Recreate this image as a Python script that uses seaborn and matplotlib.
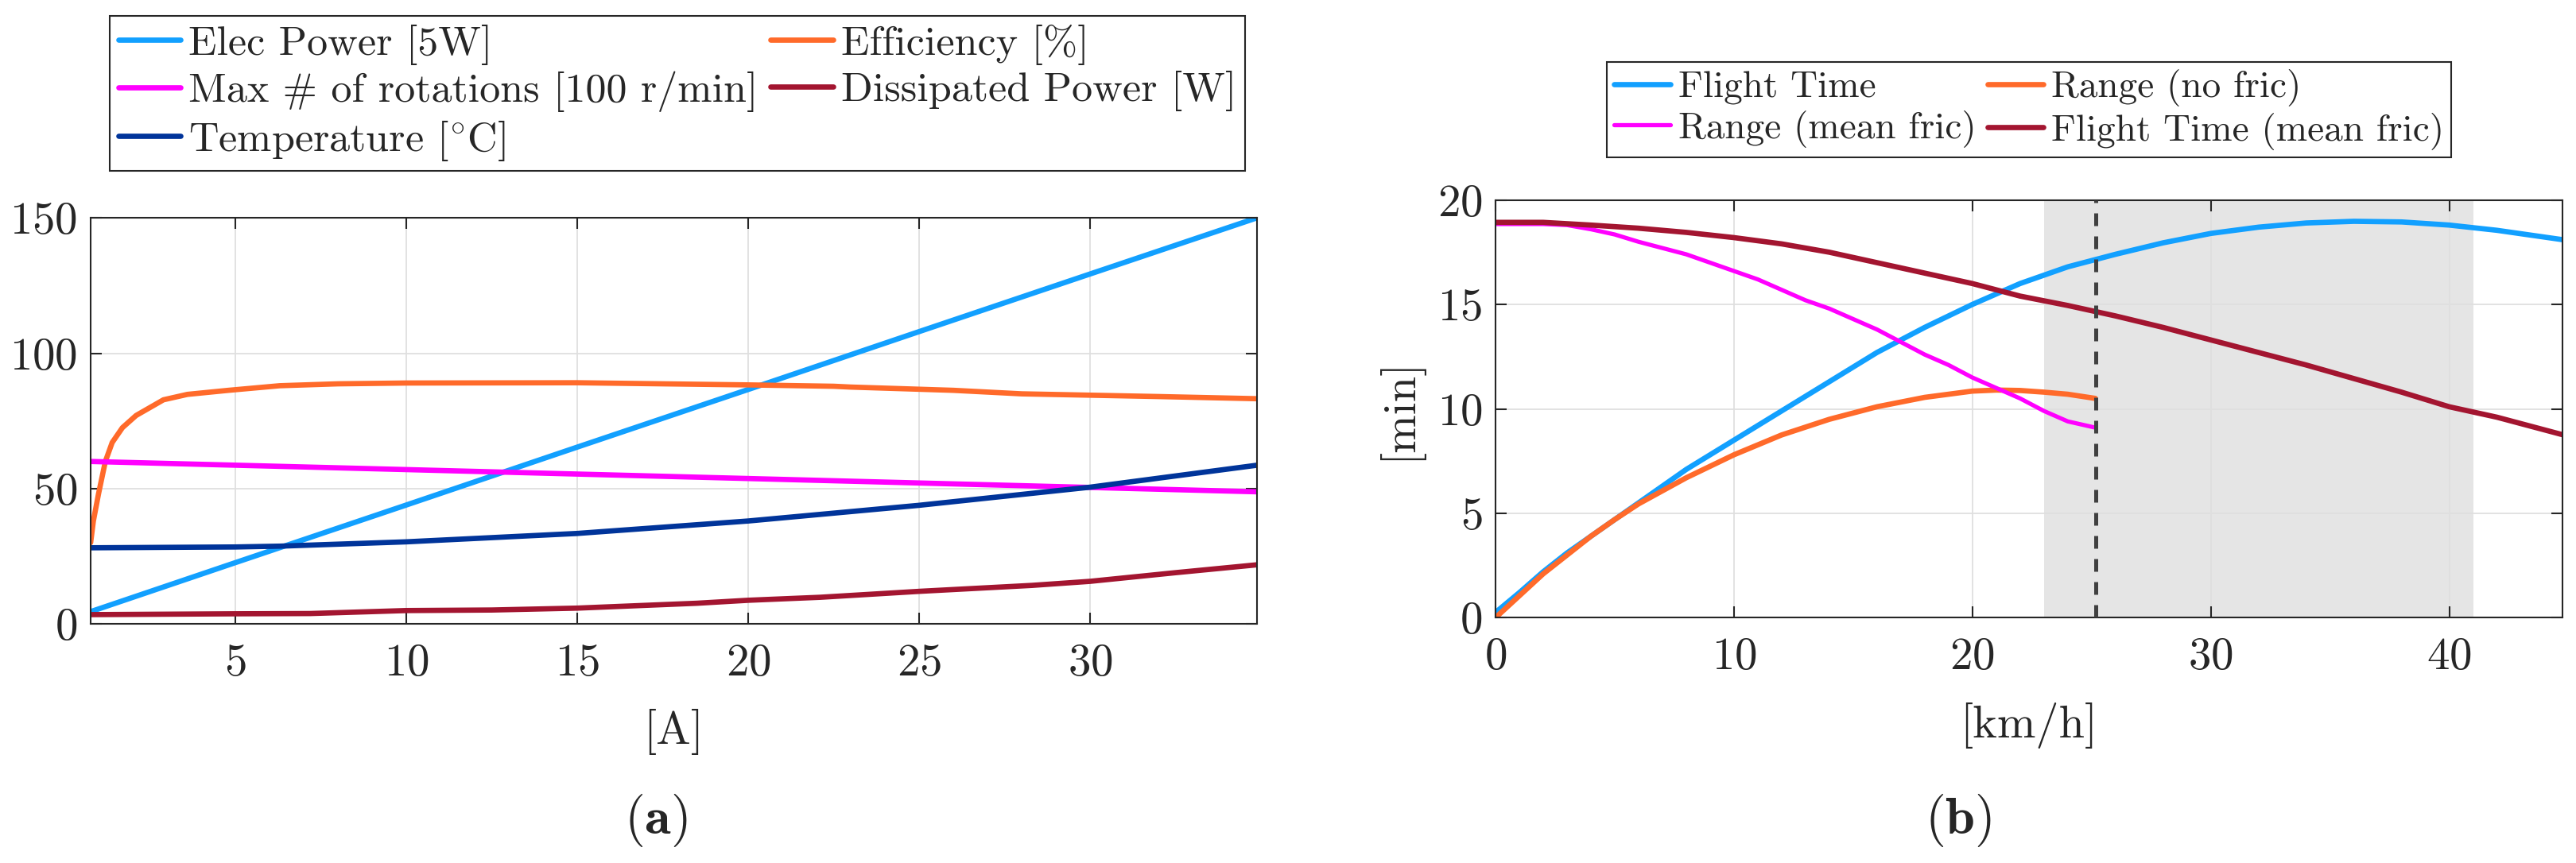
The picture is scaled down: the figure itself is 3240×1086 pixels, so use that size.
import numpy as np
import pandas as pd
import matplotlib
matplotlib.use("Agg")
import matplotlib.pyplot as plt
import seaborn as sns

# ---------------- data: panel (a) ----------------
elec_x = [0.77, 5, 10, 15, 20, 25, 30, 34.87]
elec_y = [4.5, 22.6, 43.9, 65.3, 86.6, 108.0, 129.3, 150.0]

eff_x = [0.77, 0.85, 1.0, 1.2, 1.4, 1.7, 2.1, 2.9, 3.6, 4.8, 6.3, 8, 10, 15, 20, 22.5, 23, 26, 28, 32, 34.87]
eff_y = [30, 38, 48, 60, 67, 72.5, 77, 82.8, 84.8, 86.3, 88, 88.7, 89, 89.1, 88.3, 87.8, 87.5, 86.3, 85, 84, 83.2]

rot_x = [0.77, 10, 20, 30, 34.87]
rot_y = [60.0, 57.0, 53.7, 50.4, 48.8]

temp_x = [0.77, 5, 6.3, 10, 15, 20, 25, 30, 34.87]
temp_y = [28.1, 28.4, 28.7, 30.3, 33.4, 38.0, 43.8, 50.5, 58.6]

diss_x = [0.77, 5, 7.2, 10, 12.5, 15, 18.5, 20, 22.1, 25, 28.3, 30, 32.5, 34.87]
diss_y = [3.4, 3.7, 3.8, 4.9, 5.1, 5.8, 7.6, 8.7, 9.8, 12.0, 14.2, 15.7, 18.9, 21.8]

# ---------------- data: panel (b) ----------------
ft_x = [0, 1, 2, 3, 4, 5, 6, 8, 10, 12, 14, 16, 18, 20, 22, 24, 26, 28, 30, 32, 34, 36, 38, 40, 42, 44.76]
ft_y = [0.25, 1.2, 2.2, 3.1, 3.9, 4.7, 5.5, 7.1, 8.5, 9.9, 11.3, 12.7, 13.9, 15.0, 16.0, 16.8, 17.4, 17.95,
        18.4, 18.7, 18.9, 18.98, 18.95, 18.8, 18.55, 18.1]

rnf_x = [0, 1, 2, 3, 4, 5, 6, 8, 10, 12, 14, 16, 18, 20, 21, 22, 23, 24, 25.16]
rnf_y = [0.0, 1.05, 2.1, 3.0, 3.9, 4.7, 5.45, 6.7, 7.8, 8.75, 9.5, 10.1, 10.55, 10.85, 10.9, 10.88, 10.8,
         10.7, 10.5]

rmf_x = [0, 1, 2, 3, 4, 5, 6, 7, 8, 9, 10, 11, 12, 13, 14, 15, 16, 17, 18, 19, 20, 21, 22, 23, 24, 25.16]
rmf_y = [18.85, 18.85, 18.85, 18.8, 18.6, 18.35, 18.0, 17.7, 17.4, 17.0, 16.6, 16.2, 15.7, 15.2, 14.8,
         14.3, 13.8, 13.2, 12.6, 12.1, 11.5, 11.0, 10.5, 9.9, 9.4, 9.1]

ftm_x = [0, 2, 4, 6, 8, 10, 12, 14, 16, 18, 20, 22, 24, 26, 28, 30, 32, 34, 36, 38, 40, 42, 44.76]
ftm_y = [18.93, 18.93, 18.8, 18.65, 18.45, 18.2, 17.9, 17.5, 17.0, 16.5, 16.0, 15.4, 14.95, 14.45, 13.9,
         13.3, 12.7, 12.1, 11.45, 10.8, 10.1, 9.6, 8.76]

span_lo, span_hi = 23.0, 41.0
vline_x = 25.16

a_labels = ["Elec Power [5W]", "Efficiency [%]", "Max # of rotations [100 r/min]",
            "Dissipated Power [W]", r"Temperature [$^{\circ}$C]"]
b_labels = ["Flight Time", "Range (no fric)", "Range (mean fric)", "Flight Time (mean fric)"]

a_xticks = [5, 10, 15, 20, 25, 30]
a_yticks = [0, 50, 100, 150]
b_xticks = [0, 10, 20, 30, 40]
b_yticks = [0, 5, 10, 15, 20]

# ---------------- style ----------------
sns.set_style("white")
plt.rcParams["font.family"] = ["serif"]
plt.rcParams["font.serif"] = ["cmr10", "DejaVu Serif"]
plt.rcParams["mathtext.fontset"] = "cm"
plt.rcParams["axes.formatter.use_mathtext"] = True
plt.rcParams["axes.unicode_minus"] = False

C_BLUE = "#12A0FF"
C_ORANGE = "#FF6A2A"
C_MAG = "#FF00FF"
C_RED = "#A31530"
C_NAVY = "#00349A"
C_AX = "#262626"

LW = 4.8
TICK_FS = 41
LAB_FS = 42
LEGA_FS = 37.5
LEGB_FS = 34

fig = plt.figure(figsize=(32.4, 10.86), dpi=100)
axA = fig.add_axes([114 / 3240, 1 - 785 / 1086, (1580.5 - 114) / 3240, (785 - 274.3) / 1086])
axB = fig.add_axes([1881 / 3240, 1 - 777.3 / 1086, (3223.3 - 1881) / 3240, (777.3 - 251.7) / 1086])


def style_axes(ax):
    ax.set_axisbelow(True)
    ax.grid(True, color="#DFDFDF", linewidth=1.3)
    for s in ax.spines.values():
        s.set_visible(True)
        s.set_color(C_AX)
        s.set_linewidth(1.5)
    ax.tick_params(direction="in", length=10, width=1.5, colors=C_AX, labelcolor=C_AX,
                   top=True, right=True, bottom=True, left=True, labelsize=TICK_FS)
    ax.tick_params(axis="x", pad=18)
    ax.tick_params(axis="y", pad=12)


def make_legend(handles, labels, anchor, fs):
    leg = fig.legend(handles, labels, ncol=2, loc="upper left", bbox_to_anchor=anchor,
                     bbox_transform=fig.transFigure, fontsize=fs, frameon=True, fancybox=False,
                     edgecolor=C_AX, framealpha=1, borderaxespad=0, handlelength=1.5,
                     handletextpad=0.2, columnspacing=0.3, labelspacing=0.15, borderpad=0.2)
    leg.get_frame().set_linewidth(1.5)
    return leg


# ---- panel (a)
hA = []
hA.append(sns.lineplot(x=elec_x, y=elec_y, ax=axA, color=C_BLUE, linewidth=LW, label=a_labels[0]).lines[-1])
hA.append(sns.lineplot(x=eff_x, y=eff_y, ax=axA, color=C_ORANGE, linewidth=LW, label=a_labels[1]).lines[-1])
hA.append(sns.lineplot(x=rot_x, y=rot_y, ax=axA, color=C_MAG, linewidth=LW, label=a_labels[2]).lines[-1])
hA.append(sns.lineplot(x=diss_x, y=diss_y, ax=axA, color=C_RED, linewidth=LW, label=a_labels[3]).lines[-1])
hA.append(sns.lineplot(x=temp_x, y=temp_y, ax=axA, color=C_NAVY, linewidth=LW, label=a_labels[4]).lines[-1])
axA.set_xlim(0.77, 34.87)
axA.set_ylim(0, 150)
axA.set_xticks(a_xticks)
axA.set_yticks(a_yticks)
style_axes(axA)
axA.set_xlabel("[A]", fontsize=LAB_FS, labelpad=22, color=C_AX)
axA.set_ylabel("")
if axA.get_legend():
    axA.get_legend().remove()
order = [0, 2, 4, 1, 3]
make_legend([hA[i] for i in order], [a_labels[i] for i in order], (138.3 / 3240, 1 - 20 / 1086), LEGA_FS)

# ---- panel (b)
axB.axvspan(span_lo, span_hi, color="#E5E5E5", zorder=0.3, linewidth=0)
hB = []
hB.append(sns.lineplot(x=ft_x, y=ft_y, ax=axB, color=C_BLUE, linewidth=LW, label=b_labels[0]).lines[-1])
hB.append(sns.lineplot(x=rnf_x, y=rnf_y, ax=axB, color=C_ORANGE, linewidth=LW, label=b_labels[1]).lines[-1])
hB.append(sns.lineplot(x=rmf_x, y=rmf_y, ax=axB, color=C_MAG, linewidth=3.8, label=b_labels[2]).lines[-1])
hB.append(sns.lineplot(x=ftm_x, y=ftm_y, ax=axB, color=C_RED, linewidth=LW, label=b_labels[3]).lines[-1])
axB.axvline(vline_x, color="#404040", linewidth=3.6, dashes=(3.2, 2.6), zorder=3)
axB.set_xlim(0, 44.76)
axB.set_ylim(0, 20)
axB.set_xticks(b_xticks)
axB.set_yticks(b_yticks)
style_axes(axB)
axB.set_xlabel("[km/h]", fontsize=LAB_FS, labelpad=22, color=C_AX)
axB.set_ylabel("[min]", fontsize=LAB_FS, labelpad=14, color=C_AX)
if axB.get_legend():
    axB.get_legend().remove()
orderB = [0, 2, 1, 3]
make_legend([hB[i] for i in orderB], [b_labels[i] for i in orderB], (2021 / 3240, 1 - 78 / 1086), LEGB_FS)

fig.text(825 / 3240, 1 - 1033 / 1086, r"($\mathbf{a}$)", fontsize=48, ha="center", va="center")
fig.text(2463 / 3240, 1 - 1033 / 1086, r"($\mathbf{b}$)", fontsize=48, ha="center", va="center")

fig.savefig("out.png", dpi=100, facecolor="white")
